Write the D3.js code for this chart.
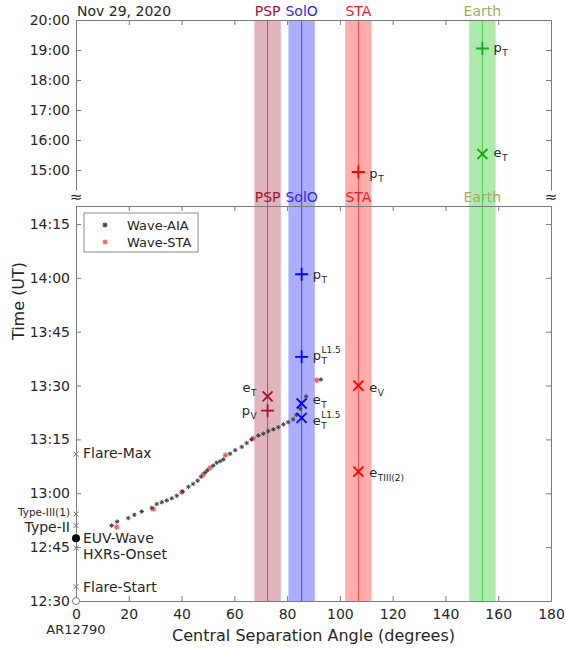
<!DOCTYPE html>
<html>
<head>
<meta charset="utf-8">
<script src="https://cdn.jsdelivr.net/npm/d3@7"></script>
<style>
  body { margin: 0; background: #fff; }
  svg { font-family: "DejaVu Sans", sans-serif; }
</style>
</head>
<body>
<svg id="chart" width="565" height="650"></svg>
<script>
// ---- values ----
const dateLabel = 'Nov 29, 2020';
const xTicks = [0, 20, 40, 60, 80, 100, 120, 140, 160, 180];
const topTicks = ['15:00', '16:00', '17:00', '18:00', '19:00', '20:00'];
const botTicks = ['12:30', '12:45', '13:00', '13:15', '13:30', '13:45', '14:00', '14:15'];
const topSpan = ['14:20', '20:00'];
const botSpan = ['12:30', '14:20'];

const craftNames = ['PSP', 'SolO', 'STA', 'Earth'];
const craftAngle = [72.6, 85.5, 107.0, 154.0];
const craftSpread = [5, 5, 5, 5];

// EUV wave front (SDO/AIA)
const aiaAngle = [13.5, 15.6, 19.8, 22.1, 24.9, 28.7, 30.6, 32.5, 34.4, 36.3, 38.2, 40.4,
  42.6, 44.4, 46.1, 47.4, 48.9, 49.8, 52.0, 53.3, 54.6, 55.8, 58.4, 60.3, 62.8, 64.7,
  66.5, 69.1, 71.0, 72.9, 74.8, 76.7, 78.6, 80.4, 82.3, 83.5, 85.0, 87.2, 92.8];
const aiaTime = ['12:51:00', '12:52:06', '12:53:06', '12:54:00', '12:54:54', '12:55:54',
  '12:57:00', '12:57:30', '12:58:00', '12:58:36', '12:59:18', '13:00:30', '13:01:48',
  '13:02:36', '13:03:30', '13:04:36', '13:05:48', '13:06:24', '13:07:42', '13:08:30',
  '13:08:54', '13:09:24', '13:11:00', '13:12:00', '13:12:54', '13:14:00', '13:15:00',
  '13:16:06', '13:16:36', '13:17:18', '13:17:48', '13:18:24', '13:19:12', '13:19:48',
  '13:20:36', '13:21:48', '13:23:30', '13:27:00', '13:31:42'];

// EUV wave front (STEREO-A)
const staAngle = [15.4, 29.3, 40.1, 48.2, 50.8, 56.6, 67.2, 91.2];
const staTime = ['12:50:36', '12:55:36', '13:00:18', '13:05:12', '13:07:06', '13:10:36',
  '13:15:18', '13:31:30'];

// in-situ onsets at each spacecraft
const evCraft = ['STA', 'Earth', 'Earth', 'SolO', 'SolO', 'SolO', 'SolO', 'PSP', 'PSP', 'STA', 'STA'];
const evSymbol = ['+', '+', 'x', '+', '+', 'x', 'x', 'x', '+', 'x', 'x'];
const evTime = ['14:56', '19:03', '15:32', '14:01', '13:38', '13:25', '13:21', '13:27', '13:23', '13:30', '13:06'];
const evLetter = ['p', 'p', 'e', 'p', 'p', 'e', 'e', 'e', 'p', 'e', 'e'];
const evSub = ['T', 'T', 'T', 'T', 'T', 'T', 'T', 'T', 'V', 'V', 'TIII(2)'];
const evSup = ['', '', '', '', 'L1.5', '', 'L1.5', '', '', '', ''];

// solar events on the time axis
const flareNames = ['Flare-Start', 'HXRs-Onset', 'EUV-Wave', 'Type-II', 'Type-III(1)', 'Flare-Max'];
const flareTime = ['12:34', '12:44:48', '12:47:30', '12:51', '12:54:12', '13:10:54'];
const originLabel = 'AR12790';

// ---- styling / layout ----
const craftColor = { PSP: '#a2142f', SolO: '#0000ff', STA: '#ff0000', Earth: '#00c000' };
const craftLabelColor = { PSP: '#a2142f', SolO: '#2a2ae0', STA: '#e8202a', Earth: '#a9a95e' };
const markColor = { PSP: '#a2142f', SolO: '#0000ff', STA: '#ff0000', Earth: '#1ea41e' };
// side of the label and baseline shift relative to the marker
const evLayout = [
  ['right', 6], ['right', 3], ['right', 3], ['right', 5], ['right', 3], ['right', 0],
  ['right', 7], ['left', -4], ['left', 4], ['right', 6], ['right', 5]
];
const flareLayout = [
  ['right', 5], ['right', 11], ['right', 5], ['left', 6], ['left', 2], ['right', 4]
];

const INK = '#262626', AXIS = '#7a7a7a';
const L = 76, R = 551, TOP_T = 20, TOP_B = 190, BOT_T = 206, BOT_B = 601;

const parse = d3.utcParse('%H:%M:%S');
const t = s => parse(s.length === 5 ? s + ':00' : s);
const fmt = d3.utcFormat('%H:%M');

const svg = d3.select('#chart');

const x = d3.scaleLinear().domain([0, 180]).range([L, R]);
const yTop = d3.scaleUtc().domain(topSpan.map(t)).range([TOP_B, TOP_T]);
const yBot = d3.scaleUtc().domain(botSpan.map(t)).range([BOT_B, BOT_T]);
const yAny = d => (d > t(botSpan[1]) ? yTop(d) : yBot(d));

// ---- spacecraft bands ----
const bands = svg.append('g');
craftNames.forEach((name, i) => {
  const c = craftAngle[i], s = craftSpread[i];
  bands.append('rect')
    .attr('x', x(c - s)).attr('width', x(c + s) - x(c - s))
    .attr('y', TOP_T).attr('height', BOT_B - TOP_T)
    .attr('fill', craftColor[name]).attr('opacity', 0.32);
  bands.append('line')
    .attr('x1', x(c)).attr('x2', x(c)).attr('y1', TOP_T).attr('y2', BOT_B)
    .attr('stroke', craftColor[name]).attr('stroke-width', 1).attr('opacity', 0.6);
  [TOP_T - 4, BOT_T - 4].forEach(yy => {
    svg.append('text').attr('x', x(c)).attr('y', yy)
      .attr('text-anchor', 'middle').attr('font-size', 14)
      .attr('fill', craftLabelColor[name]).text(name);
  });
});

// ---- axes ----
function styleAxis(g) {
  g.selectAll('path.domain').attr('stroke', AXIS);
  g.selectAll('.tick line').attr('stroke', AXIS);
  g.selectAll('.tick text').attr('fill', INK).attr('font-size', 14)
    .attr('font-family', '"DejaVu Sans", sans-serif');
}

// top panel (no bottom frame)
svg.append('g').attr('transform', `translate(${L},0)`)
  .call(d3.axisLeft(yTop).tickValues(topTicks.map(t)).tickFormat(fmt)
    .tickSizeInner(-5).tickSizeOuter(0).tickPadding(6))
  .call(styleAxis);
svg.append('g').attr('transform', `translate(${R},0)`)
  .call(d3.axisRight(yTop).tickValues(topTicks.map(t)).tickFormat('')
    .tickSizeInner(-5).tickSizeOuter(0))
  .call(styleAxis);
svg.append('g').attr('transform', `translate(0,${TOP_T})`)
  .call(d3.axisTop(x).tickValues(xTicks).tickFormat('').tickSizeInner(-5).tickSizeOuter(0))
  .call(styleAxis);

// bottom panel (full frame)
svg.append('g').attr('transform', `translate(${L},0)`)
  .call(d3.axisLeft(yBot).tickValues(botTicks.map(t)).tickFormat(fmt)
    .tickSizeInner(-5).tickSizeOuter(0).tickPadding(6))
  .call(styleAxis);
svg.append('g').attr('transform', `translate(${R},0)`)
  .call(d3.axisRight(yBot).tickValues(botTicks.map(t)).tickFormat('')
    .tickSizeInner(-5).tickSizeOuter(0))
  .call(styleAxis);
svg.append('g').attr('transform', `translate(0,${BOT_T})`)
  .call(d3.axisTop(x).tickValues(xTicks).tickFormat('').tickSizeInner(-5).tickSizeOuter(0))
  .call(styleAxis);
svg.append('g').attr('transform', `translate(0,${BOT_B})`)
  .call(d3.axisBottom(x).tickValues(xTicks).tickFormat(d3.format('d'))
    .tickSizeInner(-5).tickSizeOuter(0).tickPadding(8))
  .call(styleAxis);

// break marks
[L, R].forEach(xx => {
  svg.append('text').attr('x', xx).attr('y', (TOP_B + BOT_T) / 2 + 4)
    .attr('text-anchor', 'middle').attr('font-size', 15).attr('fill', INK).text('\u2248');
});

svg.append('text').attr('x', L + 1).attr('y', 16).attr('font-size', 14)
  .attr('fill', INK).text(dateLabel);

svg.append('text').attr('x', x(90)).attr('y', 641)
  .attr('text-anchor', 'middle').attr('font-size', 16).attr('fill', INK)
  .text('Central Separation Angle (degrees)');
svg.append('text')
  .attr('transform', 'translate(24,301) rotate(-90)')
  .attr('text-anchor', 'middle').attr('font-size', 16).attr('fill', INK)
  .text('Time (UT)');

svg.append('text').attr('x', x(0)).attr('y', 634)
  .attr('text-anchor', 'middle').attr('font-size', 13).attr('fill', INK).text(originLabel);

// ---- markers ----
function asterisk(g, cx, cy, r, color, w) {
  const a = Math.SQRT1_2 * r;
  g.append('path')
    .attr('d', `M${cx - r},${cy}H${cx + r}M${cx},${cy - r}V${cy + r}` +
      `M${cx - a},${cy - a}L${cx + a},${cy + a}M${cx - a},${cy + a}L${cx + a},${cy - a}`)
    .attr('stroke', color).attr('stroke-width', w).attr('fill', 'none');
}
function cross(g, cx, cy, r, color, w) {
  g.append('path').attr('d', `M${cx - r},${cy - r}L${cx + r},${cy + r}M${cx - r},${cy + r}L${cx + r},${cy - r}`)
    .attr('stroke', color).attr('stroke-width', w).attr('fill', 'none');
}
function plus(g, cx, cy, r, color, w) {
  g.append('path').attr('d', `M${cx - r},${cy}H${cx + r}M${cx},${cy - r}V${cy + r}`)
    .attr('stroke', color).attr('stroke-width', w).attr('fill', 'none');
}

const wave = svg.append('g');
staAngle.forEach((a, i) => asterisk(wave, x(a), yBot(t(staTime[i])), 2.8, '#ff5a5a', 1.1));
aiaAngle.forEach((a, i) => asterisk(wave, x(a), yBot(t(aiaTime[i])), 2.2, '#3a4444', 1));

// label with sub / superscript
function label(g, px, py, letter, sub, sup, side, color) {
  const grp = g.append('g');
  const main = grp.append('text').attr('x', 0).attr('y', 0).attr('font-size', 13)
    .attr('fill', color).text(letter);
  const w = main.node().getComputedTextLength();
  let sw = 0;
  if (sub) {
    const s = grp.append('text').attr('x', w + 0.5).attr('y', 4).attr('font-size', 9)
      .attr('fill', color).text(sub);
    sw = s.node().getComputedTextLength();
  }
  if (sup) {
    const s = grp.append('text').attr('x', w + 0.5).attr('y', -7).attr('font-size', 9)
      .attr('fill', color).text(sup);
    sw = Math.max(sw, s.node().getComputedTextLength());
  }
  const tx = side === 'left' ? px - (w + 0.5 + sw) : px;
  grp.attr('transform', `translate(${tx},${py})`);
}

const ev = svg.append('g');
evCraft.forEach((name, i) => {
  const cx = x(craftAngle[craftNames.indexOf(name)]);
  const cy = yAny(t(evTime[i]));
  const col = markColor[name];
  if (evSymbol[i] === '+') plus(ev, cx, cy, 6.5, col, 1.8);
  else cross(ev, cx, cy, 5, col, 1.8);
  const [side, dy] = evLayout[i];
  label(ev, side === 'left' ? cx - 11 : cx + 11, cy + dy, evLetter[i], evSub[i], evSup[i], side, INK);
});

// ---- solar events on time axis ----
const fl = svg.append('g');
svg.append('circle').attr('cx', x(0)).attr('cy', yBot(t(botSpan[0]))).attr('r', 3.5)
  .attr('fill', '#fff').attr('stroke', '#777').attr('stroke-width', 1);
flareNames.forEach((name, i) => {
  const cy = yBot(t(flareTime[i]));
  const cx = x(0);
  if (name === 'EUV-Wave') fl.append('circle').attr('cx', cx).attr('cy', cy).attr('r', 4).attr('fill', '#000');
  else cross(fl, cx, cy, 2.5, '#777', 1);
  const [side, dy] = flareLayout[i];
  fl.append('text')
    .attr('x', side === 'left' ? cx - 6 : cx + 7).attr('y', cy + dy)
    .attr('text-anchor', side === 'left' ? 'end' : 'start')
    .attr('font-size', name === 'Type-III(1)' ? 10.5 : 14)
    .attr('fill', INK).text(name);
});

// ---- legend ----
const leg = svg.append('g');
leg.append('rect').attr('x', 84).attr('y', 213).attr('width', 114).attr('height', 39)
  .attr('fill', '#fff').attr('stroke', '#8a8a8a').attr('stroke-width', 1);
[['Wave-AIA', '#3a4444'], ['Wave-STA', '#ff5a5a']].forEach(([lbl, col], i) => {
  asterisk(leg, 105, 225 + i * 17, 2.6, col, 1.1);
  leg.append('text').attr('x', 127).attr('y', 230 + i * 17).attr('font-size', 13)
    .attr('fill', INK).text(lbl);
});
</script>
</body>
</html>
